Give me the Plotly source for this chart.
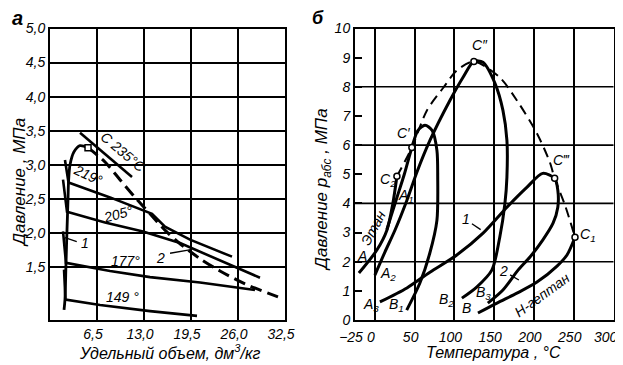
import plotly.graph_objects as go

FONT = "Liberation Sans, Arial, sans-serif"

# ---------------- panel а : pressure vs specific volume ----------------
a_xticks = [6.5, 13.0, 19.5, 26.0, 32.5]
a_xticktext = ["6,5", "13,0", "19,5", "26,0", "32,5"]
a_yticks = [1.5, 2.0, 2.5, 3.0, 3.5, 4.0, 4.5, 5.0]
a_yticktext = ["1,5", "2,0", "2,5", "3,0", "3,5", "4,0", "4,5", "5,0"]

bubble_v = [1.94, 2.07, 2.21, 2.35, 2.49, 2.56, 2.77, 3.32, 4.15, 5.26]
bubble_p = [0.87, 1.02, 1.54, 2.04, 2.49, 2.74, 3.00, 3.19, 3.28, 3.25]

dew_v = [5.26, 7.61, 9.68, 11.76, 13.83, 15.90, 17.98, 20.75, 23.51, 26.97, 31.53]
dew_p = [3.25, 3.04, 2.78, 2.52, 2.28, 2.04, 1.84, 1.62, 1.44, 1.25, 1.06]

iso235_v = [4.15, 11.34]
iso235_p = [3.47, 2.82]
iso219_v = [2.07, 2.56, 8.30, 14.11, 15.90, 19.36, 25.17]
iso219_p = [3.07, 2.74, 2.52, 2.28, 2.09, 1.90, 1.65]
iso205_v = [1.80, 2.35, 7.61, 12.86, 17.98, 23.51, 29.04]
iso205_p = [2.78, 2.31, 2.15, 2.02, 1.85, 1.59, 1.34]
iso177_v = [1.80, 2.21, 8.30, 13.83, 20.75, 28.35]
iso177_p = [2.02, 1.56, 1.44, 1.35, 1.27, 1.16]
iso149_v = [1.94, 2.14, 6.92, 13.83, 20.33]
iso149_p = [1.46, 1.02, 0.94, 0.85, 0.78]

crit_a_v = [5.26]
crit_a_p = [3.25]

# isotherm labels: (text, v, p, angle)
a_labels = [
    ("C 235°C", 10.1, 3.18, 40),
    ("219°", 5.3, 2.85, 25),
    ("205°", 9.4, 2.27, -15),
    ("177°", 10.5, 1.59, 0),
    ("149 °", 10.0, 1.06, 0),
    ("1", 4.9, 1.85, 0),
    ("2", 15.3, 1.63, 0),
]
lead1_v = [2.07, 3.7]
lead1_p = [1.93, 1.87]
lead2_v = [16.6, 19.3]
lead2_p = [1.70, 1.75]

# ---------------- panel б : pressure vs temperature ----------------
b_xticks = [-25, 0, 50, 100, 150, 200, 250, 300]
b_xticktext = ["−25", "0", "50", "100", "150", "200", "250", "300\u00a0\u00a0"]
b_yticks = list(range(0, 11))
b_ygrid = [2, 4, 6, 8]

ethane_t = [-20.1, 2.5, 15.1, 22.6, 27.7]
ethane_p = [1.61, 2.40, 3.08, 4.00, 4.93]
heptane_t = [129.6, 153.5, 178.6, 203.8, 229.0, 241.5, 251.6]
heptane_p = [0.24, 0.58, 0.92, 1.30, 1.85, 2.23, 2.84]

mix1_t = [15.0, 27.7, 37.0, 46.5, 54.0, 63.0, 72.0, 78.0, 79.0, 78.0, 69.0, 56.6, 40.0]
mix1_p = [3.10, 4.20, 5.00, 5.92, 6.50, 6.68, 6.50, 5.82, 4.90, 3.42, 2.29, 1.27, 0.34]
mix2_t = [0.0, 12.6, 25.2, 40.3, 52.8, 69.2, 94.3, 110.7, 124.5, 135.8, 151.0, 161.0,
          166.0, 166.0, 163.5, 157.0, 147.0, 128.0, 109.4]
mix2_p = [1.54, 2.33, 3.08, 4.11, 5.07, 6.16, 7.53, 8.32, 8.87, 8.84, 8.12, 7.19,
          6.16, 4.90, 4.00, 2.84, 1.71, 1.13, 0.75]
mix3_t = [6.3, 40.3, 69.2, 103.0, 136.0, 166.0, 191.0, 211.0, 226.0, 230.0, 230.0,
          224.0, 211.0, 195.0, 180.0, 161.0, 142.0]
mix3_p = [0.62, 1.10, 1.64, 2.23, 2.98, 3.87, 4.55, 5.03, 4.86, 4.45, 3.87,
          3.32, 2.74, 2.16, 1.71, 1.03, 0.58]

crit_t = [27.7, 46.5, 65.4, 85.5, 103.0, 124.5, 157.0, 178.6, 203.8, 220.0, 226.0, 239.0, 251.6]
crit_p = [4.93, 5.92, 7.19, 7.95, 8.56, 8.87, 8.32, 7.53, 6.40, 5.41, 4.86, 3.94, 2.84]
crit_pts_t = [27.7, 46.5, 124.5, 226.0, 251.6]
crit_pts_p = [4.93, 5.92, 8.87, 4.86, 2.84]

b_labels = [
    ("C″", 132, 9.42, 0),
    ("C′", 36.5, 6.40, 0),
    ("C‴", 234, 5.50, 0),
    ("C<sub>2</sub>", 16.0, 4.80, 0),
    ("A<sub>1</sub>", 39.0, 4.25, 0),
    ("A", -16.4, 2.19, 0),
    ("Этан", -2.0, 3.15, -62),
    ("A<sub>2</sub>", 17.0, 1.58, 0),
    ("A<sub>3</sub>", -5.0, 0.50, 0),
    ("B<sub>1</sub>", 27.0, 0.50, 0),
    ("B<sub>2</sub>", 90.6, 0.68, 0),
    ("B", 115.7, 0.42, 0),
    ("B<sub>3</sub>", 137.0, 0.92, 0),
    ("1", 114.5, 3.46, 0),
    ("2", 162.0, 1.68, 0),
    ("Н-гептан", 210.0, 0.86, -36),
    ("C<sub>1</sub>", 268.0, 2.90, 0),
]
lead_b1_t = [122.0, 133.0]
lead_b1_p = [3.30, 3.10]
lead_b2_t = [170.0, 181.0]
lead_b2_p = [1.55, 1.37]

fig = go.Figure()


def add_line(x, y, xa, ya, width=3.0, dash=None, shape="linear"):
    fig.add_trace(go.Scatter(
        x=x, y=y, xaxis=xa, yaxis=ya, mode="lines",
        line=dict(color="black", width=width, dash=dash, shape=shape, smoothing=0.8),
        hoverinfo="skip", showlegend=False))


# panel а curves
add_line(bubble_v, bubble_p, "x", "y", 2.8, shape="spline")
add_line(dew_v, dew_p, "x", "y", 3.0, dash="12px,6px", shape="spline")
for v, p in [(iso235_v, iso235_p), (iso219_v, iso219_p), (iso205_v, iso205_p),
             (iso177_v, iso177_p), (iso149_v, iso149_p)]:
    add_line(v, p, "x", "y", 2.6)
add_line(lead1_v, lead1_p, "x", "y", 1.3)
add_line(lead2_v, lead2_p, "x", "y", 1.3)
fig.add_trace(go.Scatter(x=crit_a_v, y=crit_a_p, xaxis="x", yaxis="y", mode="markers",
                         marker=dict(symbol="square", size=6, color="white",
                                     line=dict(color="black", width=1.5)),
                         hoverinfo="skip", showlegend=False))

# panel б curves
add_line(crit_t, crit_p, "x2", "y2", 2.0, dash="10px,6px", shape="spline")
add_line(ethane_t, ethane_p, "x2", "y2", 3.0, shape="spline")
add_line(heptane_t, heptane_p, "x2", "y2", 3.0, shape="spline")
add_line(mix1_t, mix1_p, "x2", "y2", 3.0, shape="spline")
add_line(mix2_t, mix2_p, "x2", "y2", 3.0, shape="spline")
add_line(mix3_t, mix3_p, "x2", "y2", 3.0, shape="spline")
add_line(lead_b1_t, lead_b1_p, "x2", "y2", 1.3)
add_line(lead_b2_t, lead_b2_p, "x2", "y2", 1.3)
fig.add_trace(go.Scatter(x=crit_pts_t, y=crit_pts_p, xaxis="x2", yaxis="y2", mode="markers",
                         marker=dict(symbol="circle", size=6, color="white",
                                     line=dict(color="black", width=1.5)),
                         hoverinfo="skip", showlegend=False))

# page geometry: the html body adds an 8 px margin, so the figure is 8 px smaller
OFF = 8
W, H = 623 - OFF, 365 - OFF


def px(x):
    return (x - OFF) / W


def py(y):
    return 1 - (y - OFF) / H


annotations = []
lab_font = dict(family=FONT, size=14, color="black", style="italic")
for text, vx, vy, ang in a_labels:
    annotations.append(dict(x=vx, y=vy, xref="x", yref="y", text=text, showarrow=False,
                            textangle=ang, font=lab_font, xanchor="center", yanchor="middle"))
for text, vx, vy, ang in b_labels:
    annotations.append(dict(x=vx, y=vy, xref="x2", yref="y2", text=text, showarrow=False,
                            textangle=ang, font=lab_font, xanchor="center", yanchor="middle"))

title_font = dict(family=FONT, size=16, color="black", style="italic")
ytitle_font = dict(family=FONT, size=17, color="black", style="italic")
paper_texts = [
    ("Давление , МПа", 19, 183, -90, ytitle_font),
    ("Давление <i>p</i><sub>абс</sub> , МПа", 323, 190, -90, ytitle_font),
    ("Удельный объем, дм<sup>3</sup>/кг", 170, 352, 0, title_font),
    ("Температура , °С", 493, 352, 0, title_font),
    ("<b>а</b>", 17, 18, 0, dict(family=FONT, size=20, color="black", style="italic")),
    ("<b>б</b>", 318, 18, 0, dict(family=FONT, size=18, color="black", style="italic")),
]
for text, x0, y0, ang, f in paper_texts:
    annotations.append(dict(x=px(x0), y=py(y0), xref="paper", yref="paper", text=text,
                            textangle=ang, showarrow=False, font=f,
                            xanchor="center", yanchor="middle"))

shapes = []
for g in b_ygrid:
    shapes.append(dict(type="line", xref="x2 domain", yref="y2", x0=0, x1=1, y0=g, y1=g,
                       line=dict(color="black", width=1.6), layer="below"))

tick_font = dict(family=FONT, size=14, color="black", style="italic")
axis_common = dict(showline=True, mirror=True, linecolor="black", linewidth=2,
                   zeroline=False, tickfont=tick_font, fixedrange=True,
                   automargin=False, tickangle=0)
ydom = [py(320), py(28.5)]

fig.update_layout(
    template="none",
    width=W, height=H,
    margin=dict(l=0, r=0, t=0, b=0, autoexpand=False),
    paper_bgcolor="white", plot_bgcolor="white",
    showlegend=False,
    xaxis=dict(domain=[px(50), px(285)], range=[0, 32.5], anchor="y",
               tickmode="array", tickvals=a_xticks, ticktext=a_xticktext,
               ticklabelshift=-4, ticklabeloverflow="allow",
               showgrid=True, gridcolor="black", gridwidth=1.6, ticks="", **axis_common),
    yaxis=dict(domain=ydom, range=[0.72, 5.0], anchor="x",
               tickmode="array", tickvals=a_yticks, ticktext=a_yticktext,
               showgrid=True, gridcolor="black", gridwidth=1.6, ticks="", **axis_common),
    xaxis2=dict(domain=[px(355), px(613.5)], range=[-25, 300], anchor="y2",
                tickmode="array", tickvals=b_xticks, ticktext=b_xticktext,
                ticklabelshift=-4, ticklabelstandoff=3, ticklabeloverflow="allow",
                showgrid=True, gridcolor="black", gridwidth=1.6, ticks="", **axis_common),
    yaxis2=dict(domain=ydom, range=[0, 10], anchor="x2",
                tickmode="array", tickvals=b_yticks, ticktext=[str(t) for t in b_yticks],
                showgrid=False, ticks="inside", ticklen=7, tickwidth=2, tickcolor="black",
                **axis_common),
    annotations=annotations,
    shapes=shapes,
)

fig.write_html("out.html")
